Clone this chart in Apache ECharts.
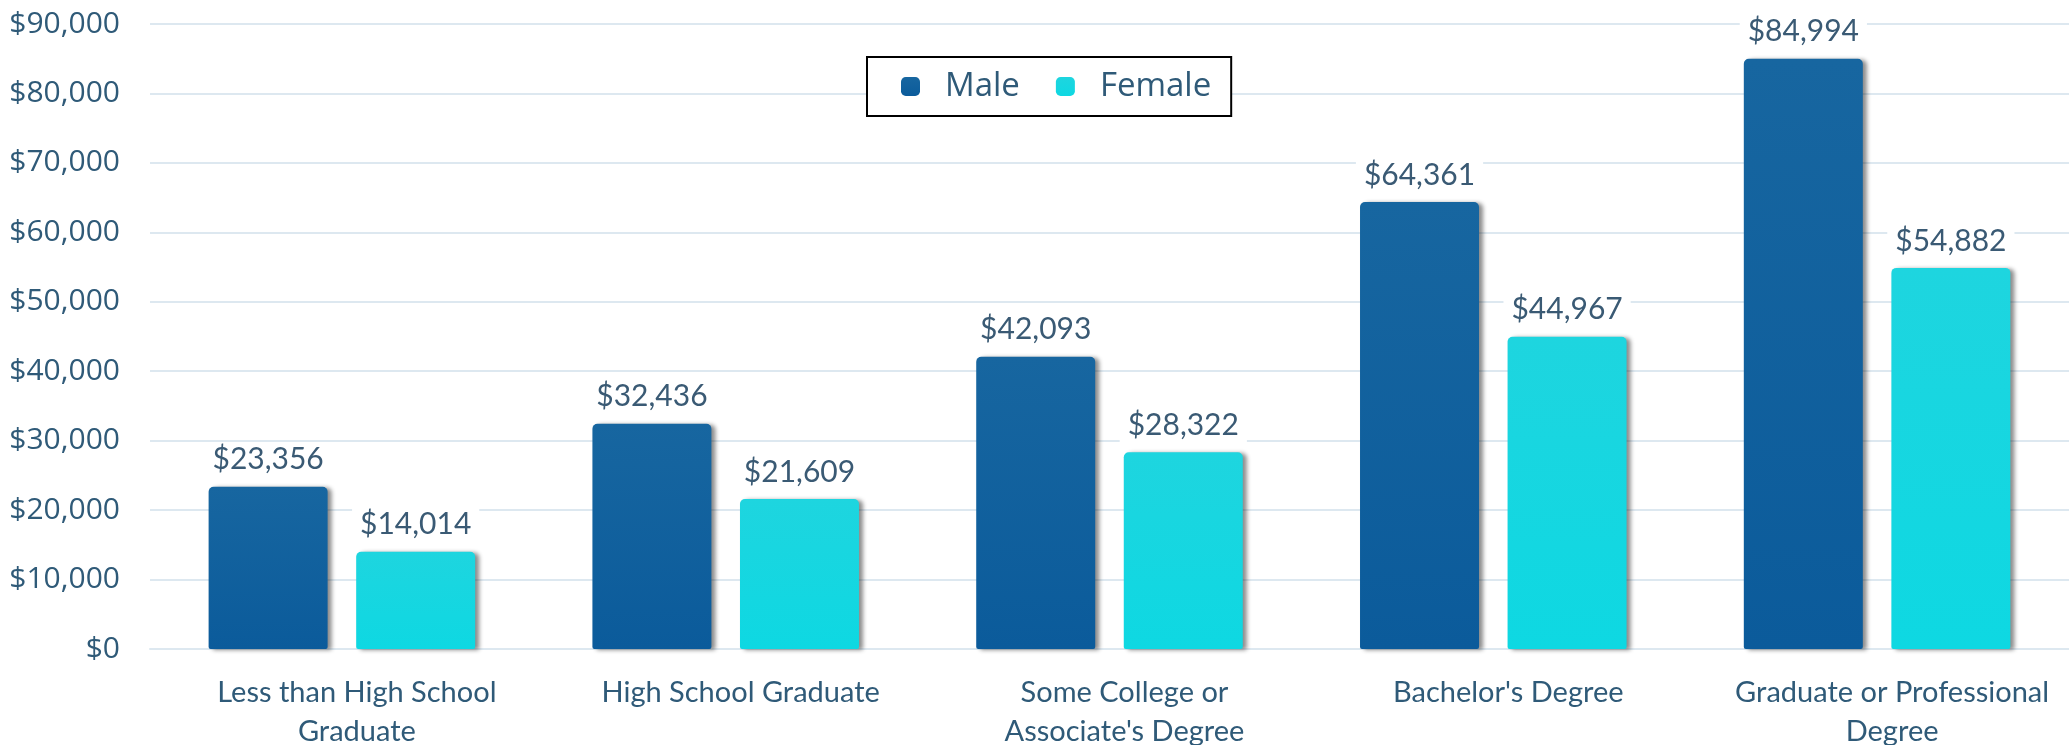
<!DOCTYPE html>
<html>
<head>
<meta charset="utf-8">
<script src="https://cdn.jsdelivr.net/npm/echarts@6/dist/echarts.min.js"></script>
<style>
  html, body { margin: 0; padding: 0; background: #fff; }
  #main { width: 2069px; height: 745px; }
</style>
</head>
<body>
<div id="main"></div>
<script>
// 数据
var categories = [
  'Less than High School\nGraduate',
  'High School Graduate',
  'Some College or\nAssociate\'s Degree',
  'Bachelor\'s Degree',
  'Graduate or Professional\nDegree'
];
var maleData = [23356, 32436, 42093, 64361, 84994];
var femaleData = [14014, 21609, 28322, 44967, 54882];
var yTicks = [0, 10000, 20000, 30000, 40000, 50000, 60000, 70000, 80000, 90000];

var textColor = '#2f5a78';

function money(v) {
  return '$' + String(v).replace(/\B(?=(\d{3})+(?!\d))/g, ',');
}

var labelStyle = {
  show: true,
  position: 'top',
  distance: 10,
  fontFamily: 'Lato',
  fontSize: 30,
  color: '#3a5a74',
  backgroundColor: '#fff',
  padding: [2, 8],
  formatter: function (p) { return money(p.value); }
};

var option = {
  animation: false,
  backgroundColor: '#fff',
  grid: { left: 150, right: 0, top: 24, bottom: 96, outerBoundsMode: 'none' },
  legend: {
    left: 867,
    top: 57,
    padding: [13, 20, 13, 34],
    itemGap: 36,
    itemWidth: 19,
    itemHeight: 19,
    icon: 'roundRect',
    borderColor: '#000',
    borderWidth: 2,
    backgroundColor: '#fff',
    textStyle: {
      fontFamily: 'Open Sans',
      fontSize: 33,
      color: textColor,
      padding: [0, 0, 0, 20]
    },
    data: ['Male', 'Female']
  },
  xAxis: {
    type: 'category',
    data: categories,
    axisTick: { show: false },
    axisLine: { lineStyle: { color: '#dde8f0', width: 2 } },
    axisLabel: {
      margin: 24,
      fontFamily: 'Lato',
      fontSize: 29,
      lineHeight: 39,
      color: textColor,
      padding: [0, 0, 0, 30],
      interval: 0
    }
  },
  yAxis: {
    type: 'value',
    min: yTicks[0],
    max: yTicks[yTicks.length - 1],
    interval: 10000,
    axisLine: { show: false },
    axisTick: { show: false },
    splitLine: { lineStyle: { color: '#dde8f0', width: 2 } },
    axisLabel: {
      margin: 30,
      fontFamily: 'Open Sans',
      fontSize: 30,
      color: textColor,
      formatter: function (v) { return money(v); }
    }
  },
  series: [
    {
      name: 'Male',
      type: 'bar',
      data: maleData,
      barWidth: 119,
      barGap: '24%',
      label: labelStyle,
      itemStyle: {
        color: new echarts.graphic.LinearGradient(0, 0, 0, 1, [
          { offset: 0, color: '#1766a0' },
          { offset: 1, color: '#0b5b9b' }
        ]),
        borderRadius: [5, 5, 2, 2],
        shadowColor: 'rgba(0,0,0,0.45)',
        shadowBlur: 4,
        shadowOffsetX: 4,
        shadowOffsetY: 1
      }
    },
    {
      name: 'Female',
      type: 'bar',
      data: femaleData,
      barWidth: 119,
      label: labelStyle,
      itemStyle: {
        color: new echarts.graphic.LinearGradient(0, 0, 0, 1, [
          { offset: 0, color: '#1ed5df' },
          { offset: 1, color: '#0ed8e2' }
        ]),
        borderRadius: [5, 5, 2, 2],
        shadowColor: 'rgba(0,0,0,0.45)',
        shadowBlur: 4,
        shadowOffsetX: 4,
        shadowOffsetY: 1
      }
    }
  ]
};

var myChart = echarts.init(document.getElementById('main'));
myChart.setOption(option);
</script>
</body>
</html>
